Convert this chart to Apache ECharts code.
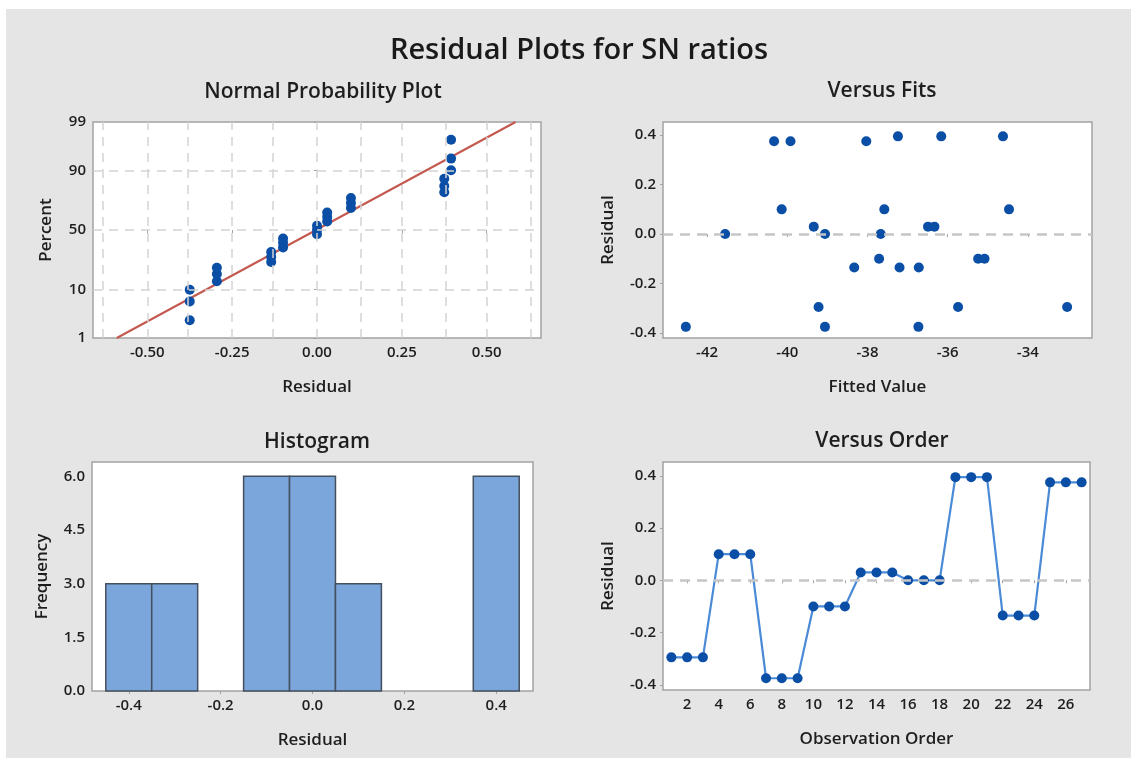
<!DOCTYPE html>
<html>
<head>
<meta charset="utf-8">
<title>Residual Plots for SN ratios</title>
<script src="https://cdn.jsdelivr.net/npm/echarts@6/dist/echarts.min.js"></script>
<style>
	html,body{margin:0;padding:0;background:#fff;}
	#bg{position:absolute;left:6px;top:9px;width:1125px;height:749px;background:#e5e5e5;}
	#chart{position:absolute;left:0;top:0;width:1131px;height:758px;}
</style>
</head>
<body>
<div id="bg"></div>
<div id="chart"></div>
<script>
// ---- data ----
// normal probability plot: sorted residuals and their plotting percents
var probResidual = [-0.375,-0.375,-0.375,-0.295,-0.295,-0.295,-0.135,-0.135,-0.135,-0.1,-0.1,-0.1,0,0,0,0.03,0.03,0.03,0.1,0.1,0.1,0.375,0.375,0.375,0.395,0.395,0.395];
var probPercent = [2.6,6.2,9.9,13.5,17.2,20.8,24.5,28.1,31.8,35.4,39.1,42.7,46.4,50.0,53.6,57.3,61.0,64.6,68.2,71.9,75.5,79.2,82.8,86.5,90.1,93.8,97.4];
var fitLineResidual = [-0.59, 0.585];
var fitLinePercent = [1, 99];
var percentTicks = [1, 10, 50, 90, 99];
var percentGrid = [10, 50, 90];
var probXTicks = [-0.5, -0.25, 0, 0.25, 0.5];
var probXGrid = [-0.625,-0.5,-0.375,-0.25,-0.125,0,0.125,0.25,0.375,0.5,0.625];

// versus fits
var fittedValue = [-42.53,-40.33,-39.92,-38.03,-37.24,-36.16,-34.62,-40.14,-37.58,-34.47,-41.55,-39.34,-39.06,-37.67,-36.49,-36.33,-37.71,-35.24,-35.08,-38.33,-37.2,-36.72,-39.22,-35.74,-33.02,-39.06,-36.73];
var fitsResidual = [-0.375,0.375,0.375,0.375,0.395,0.395,0.395,0.1,0.1,0.1,0,0.03,0,0,0.03,0.03,-0.1,-0.1,-0.1,-0.135,-0.135,-0.135,-0.295,-0.295,-0.295,-0.375,-0.375];
var fitsXTicks = [-42, -40, -38, -36, -34];

// histogram
var histCenters = [-0.4,-0.3,-0.2,-0.1,0,0.1,0.2,0.3,0.4];
var histCounts = [3,3,0,6,6,3,0,0,6];
var histBinWidth = 0.1;
var histXTicks = [-0.4,-0.2,0,0.2,0.4];
var histYTicks = [0, 1.5, 3, 4.5, 6];

// versus order
var orderObs = [1,2,3,4,5,6,7,8,9,10,11,12,13,14,15,16,17,18,19,20,21,22,23,24,25,26,27];
var orderResidual = [-0.295,-0.295,-0.295,0.1,0.1,0.1,-0.375,-0.375,-0.375,-0.1,-0.1,-0.1,0.03,0.03,0.03,0,0,0,0.395,0.395,0.395,-0.135,-0.135,-0.135,0.375,0.375,0.375];
var orderXTicks = [2,4,6,8,10,12,14,16,18,20,22,24,26];
var residTicks = [-0.4,-0.2,0,0.2,0.4];

// ---- probability scale (inverse normal cdf, Acklam) ----
function probit(pct){
	var p = pct/100;
	var a=[-3.969683028665376e+01,2.209460984245205e+02,-2.759285104469687e+02,1.383577518672690e+02,-3.066479806614716e+01,2.506628277459239e+00];
	var b=[-5.447609879822406e+01,1.615858368580409e+02,-1.556989798598866e+02,6.680131188771972e+01,-1.328068155288572e+01];
	var c=[-7.784894002430293e-03,-3.223964580411365e-01,-2.400758277161838e+00,-2.549732539343734e+00,4.374664141464968e+00,2.938163982698783e+00];
	var d=[7.784695709041462e-03,3.224671290700398e-01,2.445134137142996e+00,3.754408661907416e+00];
	var q,r;
	if(p<0.02425){
		q=Math.sqrt(-2*Math.log(p));
		return (((((c[0]*q+c[1])*q+c[2])*q+c[3])*q+c[4])*q+c[5])/((((d[0]*q+d[1])*q+d[2])*q+d[3])*q+1);
	}
	if(p>1-0.02425){
		q=Math.sqrt(-2*Math.log(1-p));
		return -(((((c[0]*q+c[1])*q+c[2])*q+c[3])*q+c[4])*q+c[5])/((((d[0]*q+d[1])*q+d[2])*q+d[3])*q+1);
	}
	q=p-0.5; r=q*q;
	return (((((a[0]*r+a[1])*r+a[2])*r+a[3])*r+a[4])*r+a[5])*q/(((((b[0]*r+b[1])*r+b[2])*r+b[3])*r+b[4])*r+1);
}
function pairs(xs, ys, fy){
	var out = [];
	for(var i = 0; i < xs.length; i++){
		out.push([xs[i], fy ? fy(ys[i]) : ys[i]]);
	}
	return out;
}

var FONT = '"Open Sans", "Noto Sans", sans-serif';
var TXT = '#1e1e1e';
var BLUE_PT = '#0a4ea6';
var BOX = '#a3a3a3';
var zTicks = percentTicks.map(probit);

function valAxis(idx, min, max, ticks, fmt, name, gap){
	return {
		type:'value', gridIndex:idx, min:min, max:max,
		name:name, nameLocation:'middle', nameGap:gap,
		nameTextStyle:{fontFamily:FONT, fontSize:17, fontWeight:600, color:TXT},
		axisLine:{show:false},
		axisTick:{show:true, length:3, lineStyle:{color:BOX}, customValues:ticks},
		axisLabel:{fontFamily:FONT, fontSize:15, fontWeight:600, color:TXT, margin:7, customValues:ticks, formatter:fmt, showMinLabel:true, showMaxLabel:true},
		splitLine:{show:false}
	};
}
function fix(n){ return function(v){ return Number(v).toFixed(n); }; }
function pctLabel(v){
	for(var i = 0; i < zTicks.length; i++){
		if(Math.abs(zTicks[i]-v) < 1e-6) return String(percentTicks[i]);
	}
	return '';
}
var zeroLine = {
	silent:true, symbol:'none', label:{show:false},
	lineStyle:{color:'#c6c6c6', type:[10,7], width:2.5},
	data:[{yAxis:0}]
};
function subTitle(text, x, y){
	return {text:text, left:x, top:y, textAlign:'center', textStyle:{fontFamily:FONT, fontSize:21, fontWeight:600, color:TXT}};
}
var pointStyle = {color:BLUE_PT, opacity:1, borderWidth:0};

var chart = echarts.init(document.getElementById('chart'));
var option = {
	animation:false,
	title:[
		{text:'Residual Plots for SN ratios', left:574, top:31, textAlign:'center', textStyle:{fontFamily:FONT, fontSize:29, fontWeight:600, color:'#1a1a1a'}},
		subTitle('Normal Probability Plot', 318, 77),
		subTitle('Versus Fits', 877, 76),
		subTitle('Histogram', 312, 427),
		subTitle('Versus Order', 877, 426)
	],
	grid:[
		{left:93, top:122, width:448, height:216, show:true, backgroundColor:'#fff', borderColor:BOX, borderWidth:1.5},
		{left:663, top:122, width:429, height:216, show:true, backgroundColor:'#fff', borderColor:BOX, borderWidth:1.5},
		{left:92, top:462, width:441, height:229, show:true, backgroundColor:'#fff', borderColor:BOX, borderWidth:1.5},
		{left:663, top:462, width:427, height:228, show:true, backgroundColor:'#fff', borderColor:BOX, borderWidth:1.5}
	],
	xAxis:[
		valAxis(0, -0.66, 0.66, probXTicks, fix(2), 'Residual', 41),
		valAxis(1, -43.1, -32.4, fitsXTicks, fix(0), 'Fitted Value', 41),
		valAxis(2, -0.48, 0.48, histXTicks, fix(1), 'Residual', 41),
		valAxis(3, 0.47, 27.53, orderXTicks, fix(0), 'Observation Order', 41)
	],
	yAxis:[
		valAxis(0, zTicks[0], zTicks[zTicks.length-1], zTicks, pctLabel, 'Percent', 38),
		valAxis(1, -0.42, 0.453, residTicks, fix(1), 'Residual', 46),
		valAxis(2, 0, 6.4, histYTicks, fix(1), 'Frequency', 41),
		valAxis(3, -0.42, 0.453, residTicks, fix(1), 'Residual', 46)
	],
	series:[
		{
			// dashed reference grid of the probability plot
			type:'line', xAxisIndex:0, yAxisIndex:0, data:[], silent:true,
			markLine:{
				silent:true, symbol:'none', label:{show:false},
				lineStyle:{color:'#d4d4d4', type:[9,7], width:1.5},
				data:probXGrid.map(function(v){ return {xAxis:v}; })
					.concat(percentGrid.map(function(p){ return {yAxis:probit(p)}; }))
			}
		},
		{
			type:'line', xAxisIndex:0, yAxisIndex:0, symbol:'none', silent:true,
			lineStyle:{color:'#c4584e', width:2},
			data:pairs(fitLineResidual, fitLinePercent, probit), z:3
		},
		{
			type:'scatter', xAxisIndex:0, yAxisIndex:0, symbolSize:10,
			itemStyle:pointStyle,
			data:pairs(probResidual, probPercent, probit), z:4
		},
		{
			type:'scatter', xAxisIndex:1, yAxisIndex:1, symbolSize:10,
			itemStyle:pointStyle,
			data:pairs(fittedValue, fitsResidual), z:4,
			markLine:zeroLine
		},
		{
			type:'custom', xAxisIndex:2, yAxisIndex:2,
			data:histCenters.map(function(c, i){ return [c - histBinWidth/2, c + histBinWidth/2, histCounts[i]]; }),
			encode:{x:[0,1], y:2},
			renderItem:function(params, api){
				if(api.value(2) <= 0) return;
				var p0 = api.coord([api.value(0), 0]);
				var p1 = api.coord([api.value(1), api.value(2)]);
				return {
					type:'rect',
					shape:{x:p0[0], y:p1[1], width:p1[0]-p0[0], height:p0[1]-p1[1]},
					style:{fill:'#7ba6db', stroke:'#45505e', lineWidth:1.5}
				};
			}
		},
		{
			type:'line', xAxisIndex:3, yAxisIndex:3, symbol:'circle', symbolSize:10,
			lineStyle:{color:'#4a8ad6', width:2.2},
			itemStyle:pointStyle,
			data:pairs(orderObs, orderResidual), z:4,
			markLine:zeroLine
		}
	]
};
chart.setOption(option);
</script>
</body>
</html>
